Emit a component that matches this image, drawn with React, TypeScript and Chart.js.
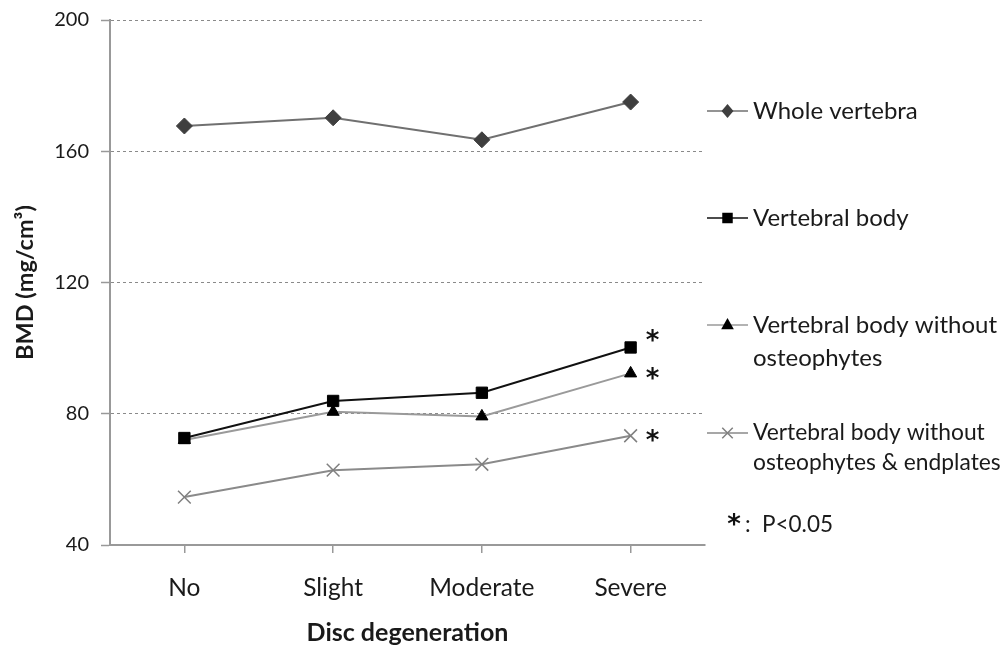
import React, { useEffect, useRef } from 'react';
import { Chart, registerables } from 'chart.js';

Chart.register(...registerables);

const categories = ['No', 'Slight', 'Moderate', 'Severe'];
const wholeVertebra = [167.7, 170.2, 163.5, 175.0];
const vertebralBody = [72.6, 83.9, 86.4, 100.2];
const withoutOsteophytes = [72.0, 80.6, 79.2, 92.3];
const withoutOsteoEndplates = [54.6, 62.8, 64.6, 73.3];
const yTicks = [40, 80, 120, 160, 200];
const seriesNames = ['Whole vertebra', 'Vertebral body', 'Vertebral body without osteophytes', 'Vertebral body without osteophytes & endplates'];
const legendLines = [['Whole vertebra'], ['Vertebral body'], ['Vertebral body without', 'osteophytes'], ['Vertebral body without', 'osteophytes & endplates']];
const significant = [false, true, true, true];
const noteLabel = 'P<0.05';

const FONT = 'Lato, "Open Sans", sans-serif';
const STAR_FONT = '"DejaVu Sans", sans-serif';

function drawMarker(ctx: CanvasRenderingContext2D, style: string, x: number, y: number, r: number, fill: string, stroke: string) {
  ctx.save();
  ctx.fillStyle = fill;
  ctx.strokeStyle = stroke;
  ctx.lineWidth = 1.5;
  ctx.beginPath();
  if (style === 'rectRot') {
    ctx.moveTo(x, y - r);
    ctx.lineTo(x + r * 0.85, y);
    ctx.lineTo(x, y + r);
    ctx.lineTo(x - r * 0.85, y);
    ctx.closePath();
    ctx.fill();
  } else if (style === 'rect') {
    const s = r * 0.75;
    ctx.rect(x - s, y - s, 2 * s, 2 * s);
    ctx.fill();
  } else if (style === 'triangle') {
    ctx.moveTo(x, y - r);
    ctx.lineTo(x + r * 0.9, y + r * 0.6);
    ctx.lineTo(x - r * 0.9, y + r * 0.6);
    ctx.closePath();
    ctx.fill();
  } else {
    const s = r * 0.75;
    ctx.moveTo(x - s, y - s);
    ctx.lineTo(x + s, y + s);
    ctx.moveTo(x + s, y - s);
    ctx.lineTo(x - s, y + s);
    ctx.stroke();
  }
  ctx.restore();
}

const sidePlugin = {
  id: 'sideLegend',
  afterDraw(chart: any) {
    const ctx: CanvasRenderingContext2D = chart.ctx;
    const rowY = [111, 218, 325, 433];
    const lineGap = [0, 0, 33, 30];
    const fontSizes = [24, 24, 24, 22.8];
    const starDy = [0, -10, 2, 2];
    const x0 = 707;
    const x1 = 748;
    const tx = 753;
    chart.data.datasets.forEach((ds: any, i: number) => {
      const y = rowY[i];
      ctx.save();
      ctx.strokeStyle = ds.borderColor;
      ctx.lineWidth = 1.5;
      ctx.beginPath();
      ctx.moveTo(x0, y);
      ctx.lineTo(x1, y);
      ctx.stroke();
      drawMarker(ctx, ds.pointStyle, (x0 + x1) / 2, y, 7, ds.pointBackgroundColor, ds.pointBorderColor);
      ctx.fillStyle = '#1a1a1a';
      ctx.font = `${fontSizes[i]}px ${FONT}`;
      ctx.textBaseline = 'middle';
      ctx.textAlign = 'left';
      legendLines[i].forEach((line, j) => {
        ctx.fillText(line, tx, y + j * lineGap[i]);
      });
      ctx.restore();

      if (significant[i]) {
        const meta = chart.getDatasetMeta(i);
        const pt = meta.data[meta.data.length - 1];
        ctx.save();
        ctx.fillStyle = '#111111';
        ctx.font = `bold 26px ${STAR_FONT}`;
        ctx.textBaseline = 'middle';
        ctx.textAlign = 'center';
        ctx.fillText('*', pt.x + 22, pt.y + starDy[i] + 5);
        ctx.restore();
      }
    });
    ctx.save();
    ctx.fillStyle = '#111111';
    ctx.textBaseline = 'middle';
    ctx.textAlign = 'center';
    ctx.font = `bold 26px ${STAR_FONT}`;
    ctx.fillText('*', 734, 526);
    ctx.textAlign = 'left';
    ctx.fillStyle = '#1a1a1a';
    ctx.font = `22.5px ${FONT}`;
    ctx.fillText(':', 745, 525);
    ctx.fillText(noteLabel, 762, 525);
    ctx.restore();
  },
};

export default function App() {
  const ref = useRef<HTMLCanvasElement | null>(null);
  useEffect(() => {
    document.body.style.margin = '0';
    const canvas = ref.current;
    if (!canvas) return;
    const chart = new Chart(canvas, {
      type: 'line',
      data: {
        labels: categories,
        datasets: [
          {
            label: seriesNames[0],
            data: wholeVertebra,
            borderColor: '#707070',
            borderWidth: 2,
            pointStyle: 'rectRot',
            pointRadius: 8,
            pointBackgroundColor: '#3f3f3f',
            pointBorderColor: '#3f3f3f',
            pointBorderWidth: 1,
          },
          {
            label: seriesNames[1],
            data: vertebralBody,
            borderColor: '#111111',
            borderWidth: 2,
            pointStyle: 'rect',
            pointRadius: 8,
            pointBackgroundColor: '#000000',
            pointBorderColor: '#000000',
            pointBorderWidth: 1,
          },
          {
            label: seriesNames[2],
            data: withoutOsteophytes,
            borderColor: '#9a9a9a',
            borderWidth: 2,
            pointStyle: 'triangle',
            pointRadius: 7,
            pointBackgroundColor: '#000000',
            pointBorderColor: '#000000',
            pointBorderWidth: 1,
          },
          {
            label: seriesNames[3],
            data: withoutOsteoEndplates,
            borderColor: '#8a8a8a',
            borderWidth: 2,
            pointStyle: 'crossRot',
            pointRadius: 9,
            pointBackgroundColor: '#808080',
            pointBorderColor: '#808080',
            pointBorderWidth: 1.5,
          },
        ],
      },
      options: {
        responsive: false,
        animation: false,
        layout: { padding: { left: 0, right: 301, top: 20, bottom: 0 } },
        plugins: {
          legend: { display: false },
          tooltip: { enabled: false },
        },
        elements: { line: { tension: 0 } },
        scales: {
          x: {
            type: 'category',
            offset: true,
            grid: { display: true, drawOnChartArea: false, drawTicks: true, tickLength: 8, color: '#999999', lineWidth: 1.5 },
            border: { display: true, color: '#999999', width: 2 },
            ticks: { color: '#1a1a1a', font: { family: FONT, size: 24.5 }, padding: 20 },
            title: { display: true, text: 'Disc degeneration', color: '#1a1a1a', font: { family: FONT, size: 25, weight: 'bold' }, padding: { top: 0, bottom: 1 } },
            afterFit: (scale: any) => { scale.height = 104; },
          },
          y: {
            type: 'linear',
            min: 40,
            max: 200,
            afterBuildTicks: (scale: any) => { scale.ticks = yTicks.map((v) => ({ value: v })); },
            grid: {
              color: (c: any) => (c.tick && c.tick.value === 40 ? 'rgba(0,0,0,0)' : '#8a8a8a'),
              lineWidth: 1,
              tickLength: 9,
              tickColor: '#999999',
              tickWidth: 1.5,
            },
            border: { display: true, color: '#999999', width: 2, dash: [3, 3] },
            ticks: { color: '#1a1a1a', font: { family: FONT, size: 20 }, padding: 12 },
            title: { display: true, text: 'BMD (mg/cm³)', color: '#1a1a1a', font: { family: FONT, size: 23.5, weight: 'bold' }, padding: { top: 11, bottom: 0 } },
            afterFit: (scale: any) => {
              scale.width = 110;
              scale.paddingTop = 12;
              scale.paddingBottom = 12;
            },
          },
        },
      },
      plugins: [sidePlugin],
    } as any);
    return () => chart.destroy();
  }, []);
  return (
    <div style={{ width: 1006, height: 649, background: '#ffffff' }}>
      <canvas ref={ref} width={1006} height={649} />
    </div>
  );
}
